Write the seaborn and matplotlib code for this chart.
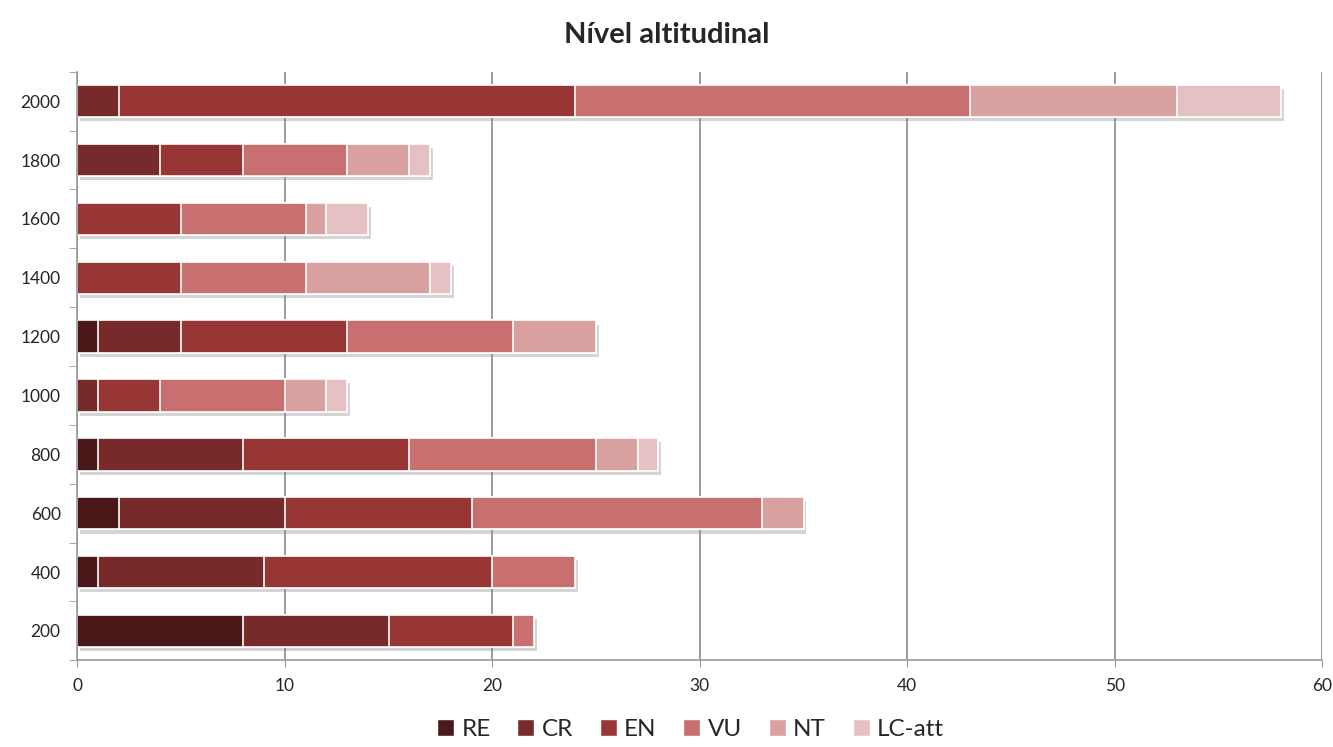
import seaborn as sns
import pandas as pd
import numpy as np
import matplotlib.pyplot as plt
import matplotlib.patheffects as pe
from matplotlib.patches import Patch

levels = ['2000', '1800', '1600', '1400', '1200', '1000', '800', '600', '400', '200']
categories = ['RE', 'CR', 'EN', 'VU', 'NT', 'LC-att']
RE = [0, 0, 0, 0, 1, 0, 1, 2, 1, 8]
CR = [2, 4, 0, 0, 4, 1, 7, 8, 8, 7]
EN = [22, 4, 5, 5, 8, 3, 8, 9, 11, 6]
VU = [19, 5, 6, 6, 8, 6, 9, 14, 4, 1]
NT = [10, 3, 1, 6, 4, 2, 2, 2, 0, 0]
LC = [5, 1, 2, 1, 0, 1, 1, 0, 0, 0]
colors = ['#4a1818', '#772a2a', '#983535', '#c87070', '#d9a0a0', '#e6c1c4']

df = pd.DataFrame({'nivel': levels, 'RE': RE, 'CR': CR, 'EN': EN, 'VU': VU, 'NT': NT, 'LC-att': LC})
cum = df[categories].cumsum(axis=1)

sns.set_style("white")
plt.rcParams['font.family'] = ['Lato', 'DejaVu Sans']

fig = plt.figure(figsize=(13.33, 7.47), dpi=100)
ax = fig.add_axes([0.058, 0.116, 0.934, 0.788])

# stacked bars: draw cumulative totals, widest first
for i, cat in enumerate(reversed(categories)):
    sns.barplot(x=cum[cat], y=df['nivel'], order=levels, orient='h', color=colors[5 - i],
                width=0.55, edgecolor='white', linewidth=1.2, saturation=1, ax=ax)
    if i == 0:
        for p in ax.patches:
            p.set_path_effects([pe.SimplePatchShadow(offset=(2, -3), shadow_rgbFace='#888888', alpha=0.35),
                                pe.Normal()])
    # hide zero width segments' edges
    for p in ax.patches:
        if p.get_width() == 0:
            p.set_linewidth(0)

ax.set_xlim(0, 60)
ax.set_ylim(len(levels) - 0.5, -0.5)
ax.set_xticks(range(0, 61, 10))
ax.xaxis.grid(True, color='#808080', linewidth=1.1)
ax.set_axisbelow(True)
ax.set_xlabel('')
ax.set_ylabel('')
ax.tick_params(axis='x', labelsize=12.5, length=5, color='#999999', direction='out', pad=8, bottom=True)
ax.tick_params(axis='y', labelsize=12.5, length=0, pad=12)
ax.set_yticks(np.arange(-0.5, len(levels), 1), minor=True)
ax.tick_params(axis='y', which='minor', length=6, color='#999999', left=True)
for s in ['top', 'right']:
    ax.spines[s].set_visible(False)
for s in ['left', 'bottom']:
    ax.spines[s].set_color('#999999')
    ax.spines[s].set_linewidth(1.2)

fig.suptitle('Nível altitudinal', fontsize=21, fontweight='bold', y=0.97)

handles = [Patch(facecolor=c, edgecolor='white', label=l) for c, l in zip(colors, categories)]
fig.legend(handles=handles, loc='lower center', ncol=6, frameon=False, fontsize=17.5,
           bbox_to_anchor=(0.518, -0.02), handlelength=0.7, handleheight=0.7,
           handletextpad=0.3, columnspacing=1.1)

fig.savefig('out.png', dpi=100)
